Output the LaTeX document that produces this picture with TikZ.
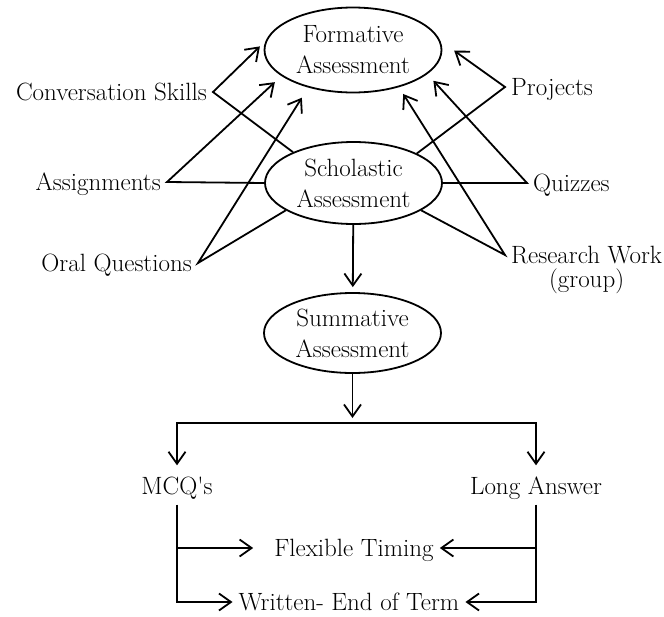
\documentclass[tikz,border=0pt]{standalone}
\usepackage{tikz}
\usetikzlibrary{positioning,shapes.geometric,arrows.meta}

\tikzset{
    assess/.style={draw, ellipse, line width=1.8pt, minimum width=177pt, minimum height=82pt, inner sep=0pt, align=center},
    lbl/.style={inner xsep=6pt, inner ysep=0pt, text height=17pt, text depth=0pt},
    link/.style={line width=1.8pt},
    arrow/.style={link, -{Straight Barb[length=12pt,width=17pt]}},
}

\begin{document}
\begin{tikzpicture}[x=1pt, y=-1pt, font=\fontsize{25}{31}\selectfont]

    \useasboundingbox (0,0) rectangle (664,616);

    % Define nodes
    \node[assess, minimum height=85pt] (formative)  at (353,50)    {Formative\\Assessment};
    \node[assess]                      (scholastic) at (353.5,183) {Scholastic\\Assessment};
    \node[assess, minimum height=80pt] (summative)  at (352.5,333) {Summative\\Assessment};

    \node[lbl, anchor=east]            (conv)     at (213,92)  {Conversation Skills};
    \node[lbl, anchor=east]            (assign)   at (167,182) {Assignments};
    \node[lbl, anchor=east]            (oral)     at (198,263) {Oral Questions};
    \node[lbl, anchor=west]            (projects) at (505,87)  {Projects};
    \node[lbl, anchor=west]            (quizzes)  at (527,183) {Quizzes};
    \node[lbl, anchor=west]            (research) at (505,255) {Research Work};
    \node[lbl, below=7pt of research]  (group)                 {(group)};

    \coordinate (split) at (352.5,423);
    \node[lbl]                         (mcq)      at (177,486) {MCQ{\textquotesingle}s};
    \node[lbl]                         (long)     at (536,486) {Long Answer};
    \node[lbl]                         (flex)     at (354,548) {Flexible Timing};
    \node[lbl]                         (written)  at (349,602) {Written- End of Term};

    % Connect the nodes
    \draw[arrow, shorten >=8pt]  (scholastic.153)   -- (conv.east)     -- (formative.174);
    \draw[arrow, shorten >=9pt]  (scholastic.180)   -- (assign.east)   -- (formative.200);
    \draw[arrow, shorten >=12pt] (scholastic.202)   -- (oral.east)     -- (formative.220);
    \draw[arrow, shorten >=17pt] (scholastic.25)    -- (projects.west) -- (formative.6.5);
    \draw[arrow, shorten >=9pt]  (scholastic.0)     -- (quizzes.west)  -- (formative.342.5);
    \draw[arrow, shorten >=8pt]  (scholastic.338.5) -- (research.west) -- (formative.321.7);

    \draw[arrow, shorten >=5pt]  (scholastic) -- (summative);
    \draw[arrow, shorten >=5pt]  (summative) -- (split);
    \draw[arrow, shorten >=12pt] (split) -| (mcq);
    \draw[arrow, shorten >=12pt] (split) -| (long);

    \draw[arrow, shorten <=10pt] (mcq.south) |- (written.west);
    \draw[arrow, shorten >=15pt] (mcq.south |- flex) -- (flex.west);
    \draw[arrow, shorten <=10pt] (long.south) |- (written.east);
    \draw[arrow]                 (long.south |- flex) -- (flex.east);

\end{tikzpicture}
\end{document}
